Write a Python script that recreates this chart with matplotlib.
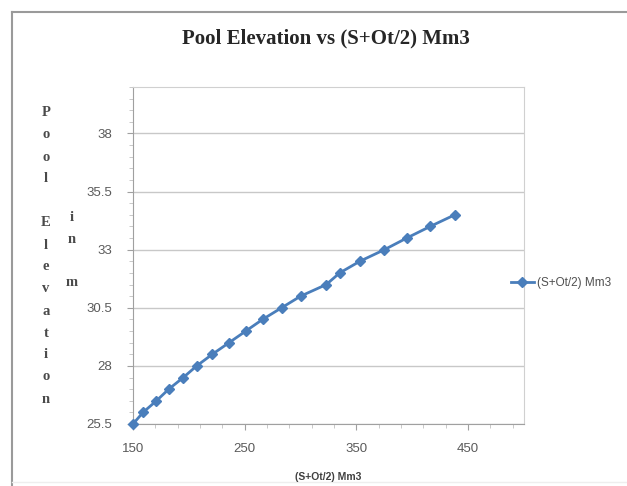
import numpy as np
import matplotlib
matplotlib.use('Agg')
import matplotlib.pyplot as plt
from matplotlib.lines import Line2D
from matplotlib.ticker import MultipleLocator, FixedLocator, FormatStrFormatter

# Data
storage = [150, 159, 171, 182, 195, 207, 221, 236, 251, 266, 283, 300,
           323, 335, 353, 375, 395, 416, 438]          # (S+Ot/2) Mm3
elevation = [25.5, 26.0, 26.5, 27.0, 27.5, 28.0, 28.5, 29.0, 29.5, 30.0,
             30.5, 31.0, 31.5, 32.0, 32.5, 33.0, 33.5, 34.0, 34.5]  # m
x_ticks = [150, 250, 350, 450]
y_ticks = [25.5, 28, 30.5, 33, 35.5, 38]

W, H = 627, 486
fig = plt.figure(figsize=(W/100, H/100), dpi=100)
fig.patch.set_facecolor('white')

# outer chart border (top / left / faint bottom)
fig.add_artist(Line2D([12/W, 1], [1-12/H, 1-12/H], color='#9a9a9a', lw=1.5))
fig.add_artist(Line2D([12/W, 12/W], [1-12/H, 0], color='#9a9a9a', lw=1.5))
fig.add_artist(Line2D([12/W, 1], [4/H, 4/H], color='#eeeeee', lw=1))

ax = fig.add_axes([133/W, 1-424/H, 391/W, 337/H])
ax.plot(storage, elevation, color='#4a7ebb', lw=2, marker='D', ms=5.5,
        mfc='#4a7ebb', mec='#4a7ebb', label='(S+Ot/2) Mm3', zorder=3,
        clip_on=False)

ax.set_xlim(150, 500)
ax.set_ylim(25.5, 40)
ax.xaxis.set_major_locator(FixedLocator(x_ticks))
ax.xaxis.set_minor_locator(MultipleLocator(20, offset=10))
ax.yaxis.set_major_locator(FixedLocator(y_ticks))
ax.yaxis.set_major_formatter(FormatStrFormatter('%g'))
ax.yaxis.set_minor_locator(MultipleLocator(0.5))
ax.grid(axis='y', which='major', color='#c8c8c8', lw=1)
ax.set_axisbelow(True)

for s in ax.spines.values():
    s.set_color('#d0d0d0')
ax.spines['left'].set_color('#a0a0a0')
ax.spines['bottom'].set_color('#a0a0a0')

ax.tick_params(which='major', length=4, color='#a0a0a0', labelsize=9.5,
               labelcolor='#5a5a5a', pad=6)
ax.tick_params(which='minor', length=3, color='#c0c0c0')
ax.tick_params(axis='x', pad=10)
ax.tick_params(axis='y', pad=11)
for lbl in ax.get_xticklabels() + ax.get_yticklabels():
    lbl.set_family('Liberation Sans')

# title
fig.text(326/W, 1-38/H, 'Pool Elevation vs (S+Ot/2) Mm3', ha='center',
         va='center', family='Liberation Serif', weight='bold', fontsize=15,
         color='#262626')

# y label written letter by letter in two columns
col1 = 'Pool Elevation'
col2 = 'in m'
for i, ch in enumerate(col1):
    fig.text(46/W, 1-(113+22*i)/H, ch, ha='center', va='center',
             family='Liberation Serif', weight='bold', fontsize=10.5,
             color='#4a4a4a')
for i, ch in enumerate(col2):
    fig.text(72/W, 1-(217+22*i)/H, ch, ha='center', va='center',
             family='Liberation Serif', weight='bold', fontsize=10.5,
             color='#4a4a4a')

# x label
fig.text(328/W, 1-477/H, '(S+Ot/2) Mm3', ha='center', va='center',
         family='Liberation Sans', weight='bold', fontsize=7.5, color='#404040')

# legend
leg = fig.legend(loc='center left', bbox_to_anchor=(500/W, 1-283/H),
                 frameon=False, handlelength=2.0, handletextpad=0.2,
                 prop={'family': 'Liberation Sans', 'size': 8.5})
for t in leg.get_texts():
    t.set_color('#505050')

fig.savefig('out.png', dpi=100)
